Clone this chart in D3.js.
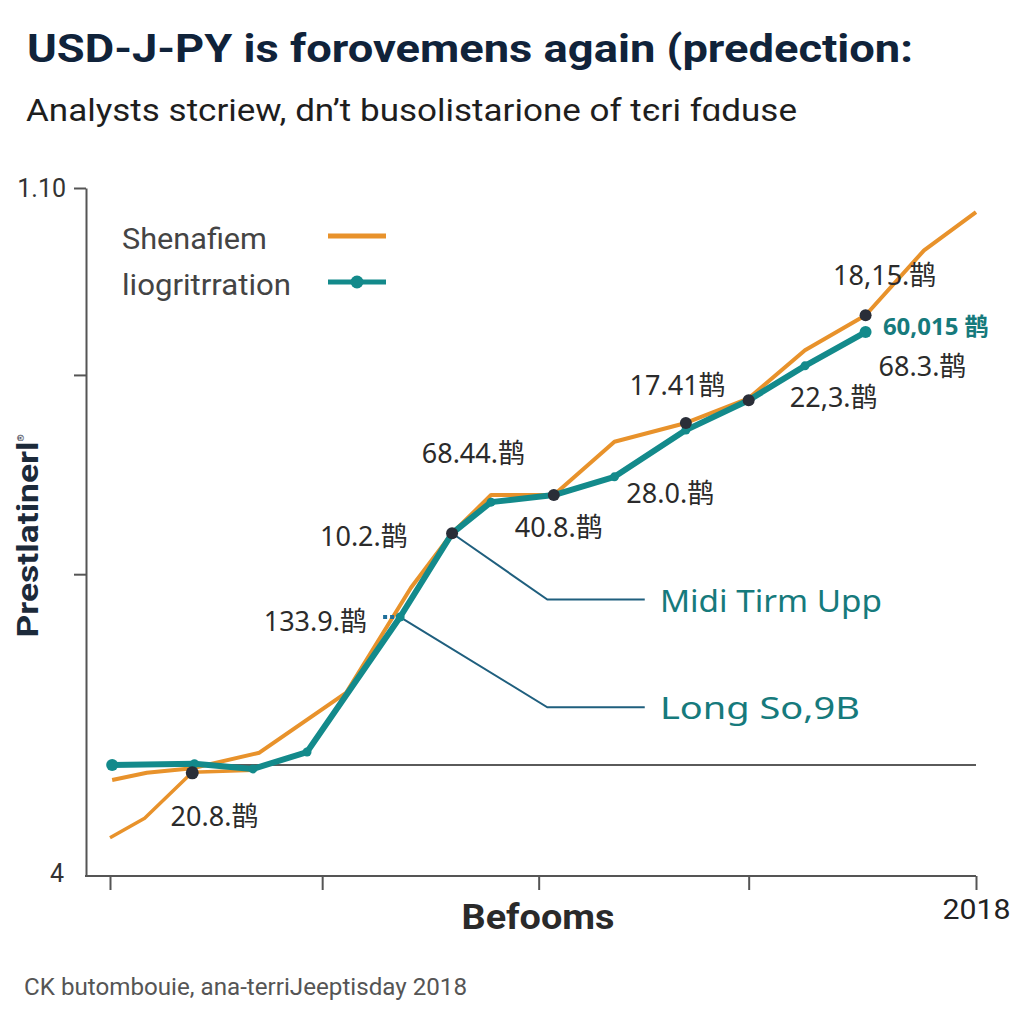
<!DOCTYPE html>
<html><head><meta charset="utf-8">
<script src="https://cdn.jsdelivr.net/npm/d3@7"></script>
<style>
html,body{margin:0;padding:0;background:#fff;}
svg{display:block;}
</style></head>
<body>
<svg id="c" width="1024" height="1024"></svg>
<script>
// ---- data ----
const titleText = "USD-J-PY is forovemens again (predection:";
const subtitleText = "Analysts stcriew, dn\u2019t busolistarione of t\u0454ri f\u0251duse";
const seriesNames = ["Shenafiem", "liogritrration"];
const yTickValues = [4, 50.5, 81.2, 110];
const yTickLabels = ["4", "", "", "1.10"];
const xTickValues = [2014, 2014.98, 2015.98, 2016.95, 2018];
const xTickLabels = ["", "", "", "", "2018"];
const refValue = 21.1;

const orangeYears = [2014.01, 2014.17, 2014.38, 2014.69, 2015.09, 2015.39, 2015.58, 2015.76, 2016.05, 2016.33, 2016.66, 2016.95, 2017.21, 2017.49, 2017.76, 2018.0];
const orangeValues = [18.8, 19.9, 20.6, 23.0, 32.2, 48.4, 56.8, 62.7, 62.7, 70.9, 73.8, 77.6, 85.0, 90.4, 100.4, 106.3];
const orangeLowYears = [2014.0, 2014.16, 2014.38, 2014.66];
const orangeLowValues = [9.9, 12.9, 20.0, 20.3];
const tealYears = [2014.01, 2014.39, 2014.66, 2014.91, 2015.34, 2015.58, 2015.76, 2016.05, 2016.33, 2016.66, 2016.95, 2017.21, 2017.49];
const tealValues = [21.1, 21.3, 20.5, 23.1, 43.9, 56.8, 61.6, 62.7, 65.5, 72.7, 77.3, 82.6, 87.8];
const darkYears = [2014.38, 2015.58, 2016.05, 2016.66, 2016.95, 2017.49];
const darkValues = [19.9, 56.8, 62.7, 73.8, 77.3, 90.4];

const labelTexts = ["18,15.\u9e4a", "68.3.\u9e4a", "22,3.\u9e4a", "17.41\u9e4a", "68.44.\u9e4a", "28.0.\u9e4a", "40.8.\u9e4a", "10.2.\u9e4a", "133.9.\u9e4a", "20.8.\u9e4a"];
const labelYears = [2017.34, 2017.55, 2017.14, 2016.4, 2015.44, 2016.385, 2015.87, 2014.97, 2014.71, 2014.28];
const labelValues = [95.1, 81.1, 76.3, 78.1, 67.6, 61.4, 56.2, 54.8, 41.7, 11.7];
const highlightText = "60,015 \u9e4a";
const highlightYear = 2017.57, highlightValue = 87.3;

const annoTexts = ["Midi Tirm Upp", "Long So,9B"];
const annoFromYears = [2015.58, 2015.34];
const annoFromValues = [56.8, 43.9];
const annoElbowYears = [2016.02, 2016.02];
const annoLevels = [46.6, 30.0];
const annoEndYear = 2016.47;
const annoTextYear = 2016.54;

const xAxisTitle = "Befooms";
const yAxisTitle = "Prestlatinerl";
const footerText = "CK butombouie, ana-terriJeeptisday 2018";

// ---- drawing ----
const svg = d3.select("#c");
const ORANGE = "#E8922B", TEAL = "#138A8B", DARK = "#2a2e38", ANNO = "#1f5f7e";
const LABELFONT = "'Noto Sans','Noto Sans CJK SC',sans-serif";

const x = d3.scaleLinear().domain([2014, 2018]).range([110, 976]);
const y = d3.scaleLinear().domain([4, 110]).range([876, 188]);
const axisX = 86;

svg.append("text").attr("x", 27).attr("y", 62)
  .attr("font-family", "Roboto, sans-serif").attr("font-weight", 700)
  .attr("font-size", 39).attr("fill", "#10233a").attr("textLength", 886)
  .attr("lengthAdjust", "spacingAndGlyphs").text(titleText);
svg.append("text").attr("x", 26).attr("y", 121)
  .attr("font-family", "Roboto, sans-serif").attr("font-size", 32)
  .attr("fill", "#1e1e1e").attr("textLength", 771)
  .attr("lengthAdjust", "spacingAndGlyphs").text(subtitleText);

// y axis
const yAxis = d3.axisLeft(y).tickValues(yTickValues).tickSize(12).tickSizeOuter(0)
  .tickFormat((d, i) => yTickLabels[i]);
const gy = svg.append("g").attr("transform", `translate(${axisX},0)`).call(yAxis);
gy.select(".domain").attr("stroke", "#555").attr("stroke-width", 2);
gy.selectAll(".tick line").attr("stroke", "#555").attr("stroke-width", 2);
gy.selectAll(".tick").filter(d => d === 4).select("line").remove();
gy.selectAll(".tick text").attr("font-family", "Roboto, sans-serif").attr("font-size", 25)
  .attr("fill", "#333").attr("x", -20);
gy.selectAll(".tick").filter(d => d === 4).select("text").attr("x", -22).attr("dy", "0.2em");

// x axis
const xAxis = d3.axisBottom(x).tickValues(xTickValues).tickSize(14).tickSizeOuter(0)
  .tickFormat((d, i) => xTickLabels[i]);
const gx = svg.append("g").attr("transform", `translate(0,${y(4)})`).call(xAxis);
gx.select(".domain").remove();
gx.selectAll(".tick line").attr("stroke", "#555").attr("stroke-width", 2);
gx.selectAll(".tick text").attr("font-family", "Roboto, sans-serif").attr("font-size", 27)
  .attr("fill", "#222").attr("dy", "0.95em").attr("textLength", 68).attr("lengthAdjust", "spacingAndGlyphs");
svg.append("line").attr("x1", axisX - 1).attr("x2", x(2018)).attr("y1", y(4)).attr("y2", y(4))
  .attr("stroke", "#555").attr("stroke-width", 2);

// axis titles
svg.append("text").attr("x", 538).attr("y", 929).attr("text-anchor", "middle")
  .attr("font-family", "Roboto, sans-serif").attr("font-weight", 700).attr("font-size", 35)
  .attr("fill", "#2a2a2a").attr("textLength", 153).attr("lengthAdjust", "spacingAndGlyphs").text(xAxisTitle);
const yt = svg.append("text").attr("transform", "translate(38,536) rotate(-90)")
  .attr("text-anchor", "middle").attr("font-family", "Roboto, sans-serif")
  .attr("font-weight", 700).attr("font-size", 30).attr("fill", "#1c2a3a");
yt.append("tspan").attr("textLength", 196).attr("lengthAdjust", "spacingAndGlyphs").text(yAxisTitle);
yt.append("tspan").attr("font-size", 9).attr("font-weight", 400).attr("dy", -14).text("\u00ae");

// reference line
svg.append("line").attr("x1", x(2014)).attr("x2", x(2018)).attr("y1", y(refValue)).attr("y2", y(refValue))
  .attr("stroke", "#5a5a5a").attr("stroke-width", 2);

// annotation connectors
annoTexts.forEach((t, i) => {
  const pts = [[annoFromYears[i], annoFromValues[i]], [annoElbowYears[i], annoLevels[i]], [annoEndYear, annoLevels[i]]];
  svg.append("path").attr("d", d3.line().x(d => x(d[0])).y(d => y(d[1]))(pts))
    .attr("fill", "none").attr("stroke", ANNO).attr("stroke-width", 2);
  svg.append("text").attr("x", x(annoTextYear)).attr("y", y(annoLevels[i]) + 12)
    .attr("font-family", LABELFONT).attr("font-size", 31).attr("fill", "#167a7c")
    .attr("textLength", i === 0 ? 222 : 200).attr("lengthAdjust", "spacingAndGlyphs").text(t);
});

const line = d3.line().x(d => x(d[0])).y(d => y(d[1]));
const zip = (a, b) => a.map((v, i) => [v, b[i]]);

svg.append("path").attr("d", line(zip(orangeLowYears, orangeLowValues)))
  .attr("fill", "none").attr("stroke", ORANGE).attr("stroke-width", 3.5).attr("stroke-linejoin", "round");
svg.append("path").attr("d", line(zip(orangeYears, orangeValues)))
  .attr("fill", "none").attr("stroke", ORANGE).attr("stroke-width", 4).attr("stroke-linejoin", "round");
svg.append("path").attr("d", line(zip(tealYears, tealValues)))
  .attr("fill", "none").attr("stroke", TEAL).attr("stroke-width", 6).attr("stroke-linejoin", "round");
svg.selectAll(".tdot").data(zip(tealYears, tealValues)).enter().append("circle")
  .attr("cx", d => x(d[0])).attr("cy", d => y(d[1]))
  .attr("r", (d, i) => (i === 0 || i === tealYears.length - 1) ? 6 : 4.5).attr("fill", TEAL);
// small dotted marker near 133.9 label
svg.append("line").attr("x1", x(tealYears[4]) - 17).attr("x2", x(tealYears[4]) - 4)
  .attr("y1", y(tealValues[4])).attr("y2", y(tealValues[4]))
  .attr("stroke", "#1f6f9a").attr("stroke-width", 4).attr("stroke-dasharray", "4,3");
svg.selectAll(".ddot").data(zip(darkYears, darkValues)).enter().append("circle")
  .attr("cx", d => x(d[0])).attr("cy", d => y(d[1]))
  .attr("r", (d, i) => i === 0 ? 6.5 : 6).attr("fill", DARK);

// labels
svg.selectAll(".lbl").data(labelTexts).enter().append("text")
  .attr("x", (d, i) => x(labelYears[i])).attr("y", (d, i) => y(labelValues[i]))
  .attr("font-family", LABELFONT).attr("font-size", 27).attr("fill", "#2b2b2b").text(d => d);
svg.append("text").attr("x", x(highlightYear)).attr("y", y(highlightValue))
  .attr("font-family", LABELFONT).attr("font-size", 24).attr("font-weight", 700)
  .attr("fill", "#167a7c").text(highlightText);

// legend
const legendColors = [ORANGE, TEAL];
const legendLens = [145, 169];
seriesNames.forEach((n, i) => {
  const ly = 238 + i * 46;
  svg.append("text").attr("x", 122).attr("y", ly + 11).attr("font-family", "Roboto, sans-serif")
    .attr("font-size", 30).attr("fill", "#444").attr("textLength", legendLens[i])
    .attr("lengthAdjust", "spacingAndGlyphs").text(n);
  svg.append("line").attr("x1", 328).attr("x2", 386).attr("y1", ly - 2).attr("y2", ly - 2)
    .attr("stroke", legendColors[i]).attr("stroke-width", 5);
  if (i === 1) svg.append("circle").attr("cx", 357).attr("cy", ly - 2).attr("r", 6.5).attr("fill", TEAL);
});

// footer
svg.append("text").attr("x", 24).attr("y", 995).attr("font-family", "Roboto, sans-serif")
  .attr("font-size", 23).attr("fill", "#555").attr("textLength", 443)
  .attr("lengthAdjust", "spacingAndGlyphs").text(footerText);
</script>
</body></html>
